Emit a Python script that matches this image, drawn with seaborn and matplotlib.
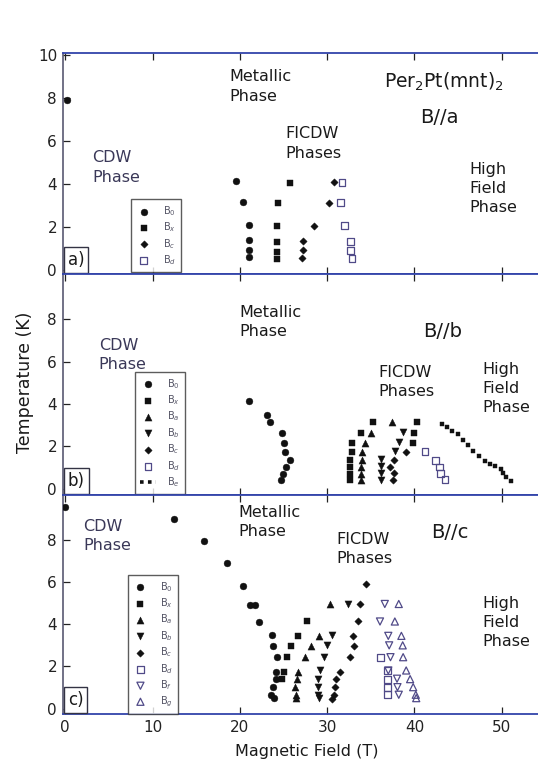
import numpy as np
import pandas as pd
import matplotlib
matplotlib.use('Agg')
import matplotlib.pyplot as plt
from matplotlib.lines import Line2D
import seaborn as sns

# panel a) B//a  -- field (T), temperature (K)
a_B0_x = [0.2, 19.5, 20.4, 21.0, 21.1, 21.1, 21.0]
a_B0_y = [7.9, 4.15, 3.18, 2.11, 1.38, 0.93, 0.59]
a_Bx_x = [25.7, 24.4, 24.2, 24.25, 24.25, 24.25]
a_Bx_y = [4.06, 3.10, 2.03, 1.29, 0.84, 0.52]
a_Bc_x = [30.8, 30.2, 28.45, 27.25, 27.2, 27.1]
a_Bc_y = [4.09, 3.13, 2.06, 1.34, 0.90, 0.53]
a_Bd_x = [31.7, 31.5, 32.0, 32.65, 32.65, 32.85]
a_Bd_y = [4.09, 3.13, 2.06, 1.32, 0.90, 0.53]

# panel b) B//b
b_B0_x = [21.0, 23.1, 23.4, 24.8, 25.05, 25.2, 25.7, 25.3, 24.9, 24.75]
b_B0_y = [4.14, 3.47, 3.14, 2.64, 2.15, 1.75, 1.34, 1.03, 0.71, 0.42]
b_Bx_x = [32.6, 32.6, 32.6, 32.6, 32.8, 32.8, 33.9, 35.2, 39.8, 39.95, 40.25]
b_Bx_y = [0.42, 0.71, 1.03, 1.34, 1.75, 2.15, 2.64, 3.14, 2.16, 2.64, 3.13]
b_Ba_x = [33.9, 33.9, 33.9, 33.95, 33.95, 34.35, 35.05, 37.4]
b_Ba_y = [0.42, 0.71, 1.03, 1.34, 1.75, 2.15, 2.64, 3.14]
b_Bb_x = [36.2, 36.2, 36.2, 36.2, 37.8, 38.2, 38.7]
b_Bb_y = [0.42, 0.75, 1.05, 1.39, 1.78, 2.19, 2.68]
b_Bc_x = [37.55, 37.65, 37.25, 37.65, 39.0]
b_Bc_y = [0.42, 0.74, 1.03, 1.34, 1.75]
b_Bd_x = [43.5, 43.0, 42.85, 42.45, 41.2]
b_Bd_y = [0.44, 0.73, 1.03, 1.33, 1.74]
b_Be_x = [43.2, 43.75, 44.35, 45.0, 45.6, 46.1, 46.7, 47.4, 48.1, 48.65, 49.2, 49.9, 50.1, 50.5, 51.1]
b_Be_y = [3.06, 2.92, 2.72, 2.57, 2.32, 2.08, 1.80, 1.53, 1.29, 1.18, 1.06, 0.93, 0.74, 0.55, 0.36]

# panel c) B//c
c_B0_x = [0.0, 12.5, 15.9, 18.5, 20.3, 21.2, 21.7, 22.2, 23.7, 23.75, 24.2, 24.1, 24.1, 23.8, 23.6, 23.9]
c_B0_y = [9.55, 8.97, 7.95, 6.88, 5.83, 4.9, 4.9, 4.1, 3.47, 2.97, 2.44, 1.76, 1.40, 1.02, 0.66, 0.50]
c_Bx_x = [27.65, 26.6, 25.9, 25.4, 25.0, 24.8]
c_Bx_y = [4.13, 3.45, 2.95, 2.44, 1.76, 1.40]
c_Ba_x = [30.3, 29.1, 28.2, 27.45, 26.7, 26.5, 26.3, 26.4, 26.4]
c_Ba_y = [4.94, 3.45, 2.95, 2.44, 1.76, 1.40, 1.02, 0.66, 0.50]
c_Bb_x = [32.35, 30.6, 29.95, 29.65, 29.2, 29.0, 29.0, 29.0, 29.1]
c_Bb_y = [4.96, 3.5, 3.0, 2.47, 1.81, 1.42, 1.05, 0.66, 0.5]
c_Bc_x = [34.4, 33.75, 33.5, 33.0, 33.05, 32.6, 31.45, 31.0, 30.95, 30.8, 30.6]
c_Bc_y = [5.92, 4.96, 4.13, 3.45, 2.95, 2.44, 1.76, 1.40, 1.02, 0.66, 0.48]
c_Bd_x = [36.15, 36.9, 36.9, 36.9, 36.9]
c_Bd_y = [2.44, 1.81, 1.40, 1.02, 0.66]
c_Bf_x = [36.6, 36.05, 37.0, 37.1, 37.25, 37.0, 38.0, 38.05, 38.2]
c_Bf_y = [4.96, 4.13, 3.45, 3.0, 2.44, 1.81, 1.42, 1.02, 0.66]
c_Bg_x = [38.2, 37.75, 38.5, 38.65, 38.7, 39.05, 39.5, 39.85, 40.15, 40.2]
c_Bg_y = [4.96, 4.13, 3.45, 3.0, 2.44, 1.81, 1.40, 1.02, 0.66, 0.5]

# marker style per series name: (marker, filled, size)
styles = {
    'B0': ('o', True, 24), 'Bx': ('s', True, 22), 'Ba': ('^', True, 26),
    'Bb': ('v', True, 26), 'Bc': ('D', True, 14), 'Bd': ('s', False, 24),
    'Be': ('s', True, 6), 'Bf': ('v', False, 26), 'Bg': ('^', False, 26),
}
open_col = '#504a88'
txt_col = '#1a1a1a'

sns.set_style('ticks')
plt.rcParams['font.family'] = ['DejaVu Sans']

fig = plt.figure(figsize=(5.38, 7.65), dpi=100)
fig.patch.set_facecolor('white')
L, W = 0.1165, 0.8835
ax_a = fig.add_axes([L, 0.6418, W, 0.2885])
ax_b = fig.add_axes([L, 0.3529, W, 0.2889])
ax_c = fig.add_axes([L, 0.0667, W, 0.2862])


def draw(ax, series):
    for name, xs, ys in series:
        m, filled, s = styles[name]
        lab = 'B$_{%s}$' % name[1]
        if filled:
            sns.scatterplot(x=xs, y=ys, ax=ax, marker=m, s=s, color='#111111',
                            edgecolor='#111111', linewidth=0.3, label=lab, zorder=3)
        else:
            sns.scatterplot(x=xs, y=ys, ax=ax, marker=m, s=s, facecolor='none',
                            edgecolor=open_col, linewidth=0.9, label=lab, zorder=3)


draw(ax_a, [('B0', a_B0_x, a_B0_y), ('Bx', a_Bx_x, a_Bx_y),
            ('Bc', a_Bc_x, a_Bc_y), ('Bd', a_Bd_x, a_Bd_y)])
draw(ax_b, [('B0', b_B0_x, b_B0_y), ('Bx', b_Bx_x, b_Bx_y), ('Ba', b_Ba_x, b_Ba_y),
            ('Bb', b_Bb_x, b_Bb_y), ('Bc', b_Bc_x, b_Bc_y), ('Bd', b_Bd_x, b_Bd_y),
            ('Be', b_Be_x, b_Be_y)])
draw(ax_c, [('B0', c_B0_x, c_B0_y), ('Bx', c_Bx_x, c_Bx_y), ('Ba', c_Ba_x, c_Ba_y),
            ('Bb', c_Bb_x, c_Bb_y), ('Bc', c_Bc_x, c_Bc_y), ('Bd', c_Bd_x, c_Bd_y),
            ('Bf', c_Bf_x, c_Bf_y), ('Bg', c_Bg_x, c_Bg_y)])

ylims = {'a': (-0.2, 10.1), 'b': (-0.3, 10.15), 'c': (-0.25, 10.12)}
legend_pos = {'a': (0.144, 0.009), 'b': (0.153, 0.005), 'c': (0.137, 0.0)}

for key, ax in zip('abc', [ax_a, ax_b, ax_c]):
    ax.set_xlim(-0.3, 54.15)
    ax.set_ylim(*ylims[key])
    ax.set_xticks([0, 10, 20, 30, 40, 50])
    ax.set_yticks([0, 2, 4, 6, 8, 10] if key == 'a' else [0, 2, 4, 6, 8])
    ax.tick_params(direction='in', length=5, width=0.9, top=True, bottom=True,
                   labelsize=11, colors='#222222', pad=4)
    if key != 'c':
        ax.tick_params(labelbottom=False)
    ax.spines['right'].set_visible(False)
    for sp in ['top', 'bottom']:
        ax.spines[sp].set_color('#3344aa')
        ax.spines[sp].set_linewidth(1.3)
    ax.spines['left'].set_color('#4a4a66')
    ax.spines['left'].set_linewidth(1.1)
    ax.set_xlabel('')
    ax.set_ylabel('')

    handles, labels = ax.get_legend_handles_labels()
    if key == 'b':
        handles[-1] = Line2D([0], [0], ls=(0, (1, 1.2)), lw=2.6, color='#111111')
    leg = ax.legend(handles, labels, loc='lower left', bbox_to_anchor=legend_pos[key],
                    frameon=True, fancybox=False, fontsize=7, handlelength=1.6,
                    handletextpad=1.2, labelspacing=0.27, borderpad=0.5,
                    borderaxespad=0)
    leg.get_frame().set_edgecolor('#333333')
    leg.get_frame().set_linewidth(1.0)
    for t in leg.get_texts():
        t.set_color('#555566')

    ax.text(0.0105, 0.022, key + ')', transform=ax.transAxes, fontsize=12,
            ha='left', va='bottom', color=txt_col,
            bbox=dict(boxstyle='square,pad=0.25', fc='white', ec='#333344', lw=1.0),
            zorder=5)

kw = dict(fontsize=11.5, ha='left', va='center', color=txt_col, linespacing=1.35)
big = dict(fontsize=14, ha='left', va='center', color=txt_col)

ax_a.text(18.8, 8.55, 'Metallic\nPhase', **kw)
ax_a.text(36.5, 8.75, 'Per$_2$Pt(mnt)$_2$', fontsize=13.5, ha='left', va='center', color=txt_col)
ax_a.text(40.6, 7.09, 'B//a', **big)
ax_a.text(25.2, 5.89, 'FICDW\nPhases', **kw)
ax_a.text(3.06, 4.77, 'CDW\nPhase', **dict(kw, color='#3a3858'))
ax_a.text(46.3, 3.78, 'High\nField\nPhase', **kw)

ax_b.text(19.96, 7.9, 'Metallic\nPhase', **kw)
ax_b.text(40.95, 7.42, 'B//b', **big)
ax_b.text(3.84, 6.32, 'CDW\nPhase', **dict(kw, color='#3a3858'))
ax_b.text(35.84, 5.06, 'FICDW\nPhases', **kw)
ax_b.text(47.75, 4.73, 'High\nField\nPhase', **kw)

ax_c.text(2.07, 8.18, 'CDW\nPhase', **dict(kw, color='#3a3858'))
ax_c.text(19.84, 8.85, 'Metallic\nPhase', **kw)
ax_c.text(31.04, 7.57, 'FICDW\nPhases', **kw)
ax_c.text(41.85, 8.36, 'B//c', **big)
ax_c.text(47.8, 4.09, 'High\nField\nPhase', **kw)

fig.text(0.046, 0.5, 'Temperature (K)', rotation=90, fontsize=12.5,
         ha='center', va='center', color=txt_col)
fig.text(0.57, 0.017, 'Magnetic Field (T)', fontsize=11.5,
         ha='center', va='center', color=txt_col)

fig.savefig('out.png', dpi=100, facecolor='white')
